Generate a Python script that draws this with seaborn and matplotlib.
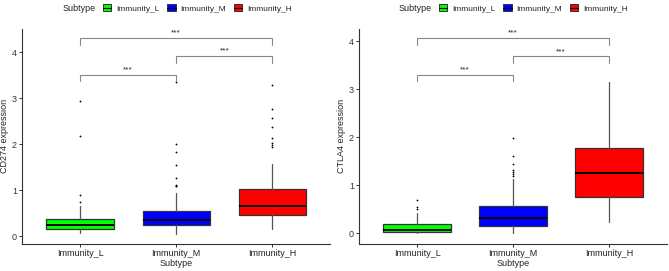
import numpy as np
import matplotlib
matplotlib.use('Agg')
import matplotlib.pyplot as plt
import seaborn as sns
from matplotlib.patches import Patch
from matplotlib.lines import Line2D

# Subtypes y colores
subtypes = ['Immunity_L', 'Immunity_M', 'Immunity_H']
colors = ['#00FF00', '#0000FF', '#FF0000']

# CD274
cd274_q1 = [0.15, 0.25, 0.46]
cd274_med = [0.24, 0.355, 0.66]
cd274_q3 = [0.37, 0.55, 1.02]
cd274_lo = [0.065, 0.05, 0.15]
cd274_hi = [0.66, 0.93, 1.565]
cd274_out = [
    [0.75, 0.89, 2.17, 2.94],
    [1.08, 1.10, 1.12, 1.27, 1.55, 1.83, 2.0, 3.35],
    [1.93, 1.98, 2.03, 2.13, 2.37, 2.57, 2.77, 3.29],
]

# CTLA4
ctla4_q1 = [0.02, 0.16, 0.765]
ctla4_med = [0.08, 0.33, 1.26]
ctla4_q3 = [0.19, 0.57, 1.78]
ctla4_lo = [0.0, 0.01, 0.23]
ctla4_hi = [0.42, 1.13, 3.15]
ctla4_out = [
    [0.50, 0.55, 0.70],
    [1.20, 1.23, 1.27, 1.32, 1.45, 1.62, 1.98],
    [],
]

# Comparaciones: (grupo a, grupo b, altura, etiqueta)
cd274_brackets = [(0, 1, 3.51, '***'), (1, 2, 3.91, '***'), (0, 2, 4.30, '***')]
ctla4_brackets = [(0, 1, 3.31, '***'), (1, 2, 3.69, '***'), (0, 2, 4.07, '***')]

sns.set_theme(style='white')
plt.rcParams['font.family'] = ['Liberation Sans', 'DejaVu Sans']

fig = plt.figure(figsize=(6.69, 2.71), dpi=100)
W, H = 669, 271
FS = 6.5


def panel(rect, q1, med, q3, lo, hi, outs, brackets, ylabel, ylim, legx):
    ax = fig.add_axes(rect)
    stats = []
    for i in range(3):
        stats.append(dict(med=med[i], q1=q1[i], q3=q3[i], whislo=lo[i],
                          whishi=hi[i], fliers=outs[i], label=subtypes[i]))
    bp = ax.bxp(stats, positions=[1, 2, 3], widths=0.7, patch_artist=True,
                boxprops=dict(edgecolor='#333333', linewidth=0.9),
                medianprops=dict(color='black', linewidth=1.4),
                whiskerprops=dict(color='#555555', linewidth=0.9),
                capprops=dict(linewidth=0),
                flierprops=dict(marker='o', markersize=1.3, markerfacecolor='black',
                                markeredgewidth=0))
    for patch, c in zip(bp['boxes'], colors):
        patch.set_facecolor(c)
    tick = 0.145 * (ylim[1] - ylim[0]) / 4.66
    for a, b, y, lab in brackets:
        ax.plot([a + 1, a + 1, b + 1, b + 1], [y - tick, y, y, y - tick],
                color='#888888', lw=0.8)
        ax.text((a + b) / 2 + 1, y + 0.03, lab, ha='center', va='bottom', fontsize=6)
    ax.set_xlim(0.4, 3.6)
    ax.set_ylim(*ylim)
    ax.set_xticks([1, 2, 3])
    ax.set_xticklabels(subtypes, fontsize=FS, color='#222222')
    ax.set_yticks([0, 1, 2, 3, 4])
    ax.set_yticklabels(['0', '1', '2', '3', '4'], fontsize=FS, color='#333333')
    ax.tick_params(axis='both', length=2.5, width=0.7, color='#333333', pad=1.5,
                   bottom=True, left=True)
    ax.set_xlabel('Subtype', fontsize=FS, labelpad=0.5)
    ax.set_ylabel(ylabel, fontsize=FS, labelpad=2)
    sns.despine(ax=ax)
    for s in ['left', 'bottom']:
        ax.spines[s].set_color('#333333')
        ax.spines[s].set_linewidth(0.8)
    # leyenda superior
    fig.text(legx / W, 1 - 8.5 / H, 'Subtype', fontsize=FS, ha='left', va='center')
    handles = [(Patch(facecolor=c, edgecolor='#333333', linewidth=0.7),
                Line2D([], [], color='black', lw=0.8)) for c in colors]
    fig.legend(handles, subtypes, loc='center left', ncol=3, frameon=False,
               bbox_to_anchor=((legx + 40) / W, 1 - 8.5 / H), fontsize=6,
               handlelength=1.0, handleheight=0.9, handletextpad=0.6,
               columnspacing=0.9, borderpad=0, borderaxespad=0)
    return ax


bottom = (H - 243.5) / H
height = (243.5 - 29) / H
panel([22.4 / W, bottom, 307.6 / W, height], cd274_q1, cd274_med, cd274_q3,
      cd274_lo, cd274_hi, cd274_out, cd274_brackets, 'CD274 expression', (-0.16, 4.5), 63)
panel([359.4 / W, bottom, 307.2 / W, height], ctla4_q1, ctla4_med, ctla4_q3,
      ctla4_lo, ctla4_hi, ctla4_out, ctla4_brackets, 'CTLA4 expression', (-0.21, 4.26), 399)

fig.savefig('out.png', dpi=100)
